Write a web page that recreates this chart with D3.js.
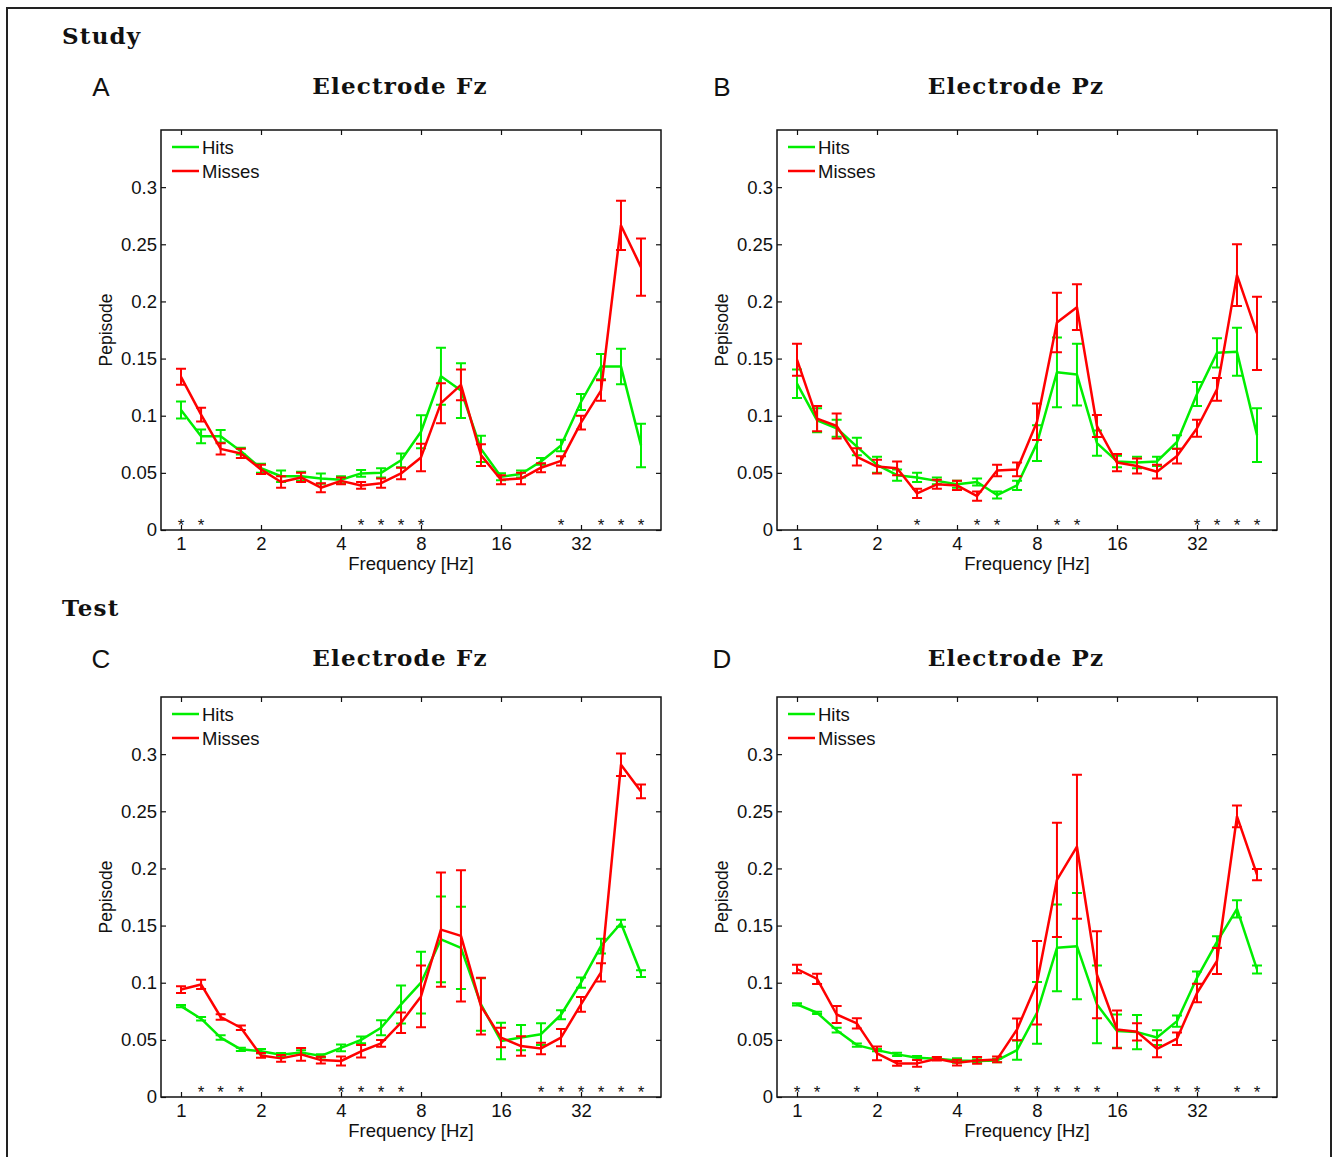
<!DOCTYPE html>
<html>
<head>
<meta charset="utf-8">
<script src="https://cdn.jsdelivr.net/npm/d3@7"></script>
<style>
  html, body { margin: 0; padding: 0; background: #fff; }
  svg { display: block; }
</style>
</head>
<body>
<div id="chart"></div>
<script>
// Quarter-octave frequency bins (Hz)
const freqs = [1, 1.19, 1.41, 1.68, 2, 2.38, 2.83, 3.36, 4, 4.76, 5.66, 6.73,
               8, 9.51, 11.31, 13.45, 16, 19.03, 22.63, 26.91, 32, 38.05, 45.25, 53.82];
const xTickValues = [1, 2, 4, 8, 16, 32];
const yTickValues = [0, 0.05, 0.1, 0.15, 0.2, 0.25, 0.3];
const yTickLabels = ["0", "0.05", "0.1", "0.15", "0.2", "0.25", "0.3"];
const seriesNames = ["Hits", "Misses"];

// Study, electrode Fz
const studyFzHits      = [0.105, 0.082, 0.082, 0.069, 0.054, 0.047, 0.047, 0.045, 0.044, 0.0495, 0.050, 0.061,
                          0.086, 0.1345, 0.122, 0.071, 0.0466, 0.049, 0.060, 0.074, 0.112, 0.143, 0.143, 0.074];
const studyFzHitsErr   = [0.0075, 0.006, 0.0055, 0.003, 0.004, 0.005, 0.004, 0.0045, 0.003, 0.003, 0.004, 0.006,
                          0.0145, 0.025, 0.024, 0.0115, 0.003, 0.003, 0.003, 0.005, 0.007, 0.011, 0.0155, 0.019];
const studyFzMisses    = [0.134, 0.101, 0.071, 0.067, 0.053, 0.042, 0.046, 0.037, 0.043, 0.039, 0.041, 0.0495,
                          0.0635, 0.111, 0.127, 0.0655, 0.044, 0.045, 0.0545, 0.0605, 0.094, 0.122, 0.2665, 0.230];
const studyFzMissesErr = [0.007, 0.006, 0.005, 0.004, 0.004, 0.005, 0.004, 0.004, 0.003, 0.003, 0.004, 0.005,
                          0.012, 0.0175, 0.0135, 0.0095, 0.004, 0.005, 0.004, 0.004, 0.006, 0.009, 0.0215, 0.025];
const studyFzStars     = [0, 1, 9, 10, 11, 12, 19, 21, 22, 23];

// Study, electrode Pz
const studyPzHits      = [0.128, 0.096, 0.089, 0.073, 0.057, 0.048, 0.046, 0.043, 0.040, 0.042, 0.0306, 0.039,
                          0.076, 0.138, 0.136, 0.076, 0.060, 0.059, 0.060, 0.077, 0.119, 0.155, 0.156, 0.083];
const studyPzHitsErr   = [0.0125, 0.0105, 0.0075, 0.0077, 0.007, 0.005, 0.004, 0.003, 0.003, 0.003, 0.003, 0.004,
                          0.0157, 0.0305, 0.027, 0.011, 0.005, 0.005, 0.004, 0.006, 0.0105, 0.0128, 0.021, 0.0235];
const studyPzMisses    = [0.149, 0.0975, 0.091, 0.064, 0.0555, 0.054, 0.032, 0.040, 0.039, 0.0297, 0.052, 0.053,
                          0.0947, 0.1815, 0.195, 0.091, 0.059, 0.056, 0.051, 0.0647, 0.089, 0.123, 0.223, 0.172];
const studyPzMissesErr = [0.014, 0.011, 0.011, 0.0075, 0.006, 0.006, 0.004, 0.004, 0.004, 0.004, 0.005, 0.006,
                          0.016, 0.026, 0.020, 0.0096, 0.0075, 0.0065, 0.006, 0.0065, 0.0075, 0.010, 0.027, 0.032];
const studyPzStars     = [6, 9, 10, 13, 14, 20, 21, 22, 23];

// Test, electrode Fz
const testFzHits       = [0.0795, 0.0685, 0.052, 0.0417, 0.040, 0.037, 0.039, 0.036, 0.043, 0.050, 0.0606, 0.081,
                          0.100, 0.138, 0.1305, 0.081, 0.049, 0.052, 0.055, 0.072, 0.100, 0.132, 0.152, 0.108];
const testFzHitsErr    = [0.001, 0.0015, 0.002, 0.0015, 0.002, 0.0015, 0.002, 0.0015, 0.003, 0.003, 0.0065, 0.0166,
                          0.027, 0.0375, 0.036, 0.023, 0.016, 0.011, 0.0095, 0.004, 0.0045, 0.0065, 0.003, 0.003];
const testFzMisses     = [0.094, 0.0985, 0.070, 0.0606, 0.0364, 0.0338, 0.0373, 0.0323, 0.0315, 0.040, 0.0469, 0.065,
                          0.088, 0.1465, 0.141, 0.0795, 0.052, 0.0446, 0.0425, 0.052, 0.081, 0.109, 0.2907, 0.2674];
const testFzMissesErr  = [0.003, 0.004, 0.0025, 0.002, 0.002, 0.003, 0.0055, 0.003, 0.004, 0.0055, 0.003, 0.009,
                          0.027, 0.050, 0.0575, 0.0248, 0.0085, 0.0085, 0.005, 0.0075, 0.0065, 0.008, 0.0099, 0.006];
const testFzStars      = [1, 2, 3, 8, 9, 10, 11, 18, 19, 20, 21, 22, 23];

// Test, electrode Pz
const testPzHits       = [0.081, 0.0737, 0.0585, 0.0454, 0.041, 0.0373, 0.0344, 0.0335, 0.032, 0.0315, 0.032, 0.041,
                          0.0737, 0.1305, 0.132, 0.081, 0.0577, 0.0568, 0.052, 0.0664, 0.1043, 0.1357, 0.1646, 0.1116];
const testPzHitsErr    = [0.001, 0.001, 0.002, 0.0015, 0.001, 0.0015, 0.0015, 0.001, 0.002, 0.0015, 0.0015, 0.0085,
                          0.027, 0.038, 0.0465, 0.034, 0.0145, 0.015, 0.0065, 0.005, 0.0055, 0.005, 0.0075, 0.0035];
const testPzMisses     = [0.112, 0.1034, 0.0722, 0.0644, 0.0382, 0.0294, 0.0294, 0.0335, 0.030, 0.032, 0.0329, 0.0591,
                          0.100, 0.190, 0.219, 0.107, 0.0591, 0.057, 0.0422, 0.051, 0.091, 0.119, 0.2455, 0.1946];
const testPzMissesErr  = [0.0037, 0.0045, 0.0075, 0.0045, 0.006, 0.002, 0.003, 0.0015, 0.0025, 0.003, 0.0025, 0.0095,
                          0.0365, 0.050, 0.063, 0.038, 0.0165, 0.0075, 0.0075, 0.0055, 0.008, 0.0113, 0.0095, 0.005];
const testPzStars      = [0, 1, 3, 6, 11, 12, 13, 14, 15, 18, 19, 20, 22, 23];

const colors = { Hits: "#00ee00", Misses: "#ff0000" };

const W = 1334, H = 1157;
const plotW = 500, plotH = 400;

const panels = [
  { letter: "A", title: "Electrode Fz", left: 161, top: 130, letterX: 101, headY: 95,
    hits: studyFzHits, hitsErr: studyFzHitsErr, misses: studyFzMisses, missesErr: studyFzMissesErr, stars: studyFzStars },
  { letter: "B", title: "Electrode Pz", left: 777, top: 130, letterX: 722, headY: 95,
    hits: studyPzHits, hitsErr: studyPzHitsErr, misses: studyPzMisses, missesErr: studyPzMissesErr, stars: studyPzStars },
  { letter: "C", title: "Electrode Fz", left: 161, top: 697, letterX: 101, headY: 667,
    hits: testFzHits, hitsErr: testFzHitsErr, misses: testFzMisses, missesErr: testFzMissesErr, stars: testFzStars },
  { letter: "D", title: "Electrode Pz", left: 777, top: 697, letterX: 722, headY: 667,
    hits: testPzHits, hitsErr: testPzHitsErr, misses: testPzMisses, missesErr: testPzMissesErr, stars: testPzStars }
];

const sans = "'Liberation Sans', Arial, Helvetica, sans-serif";
const serif = "'DejaVu Serif', serif";

const svg = d3.select("#chart").append("svg")
  .attr("width", W).attr("height", H);

svg.append("rect").attr("width", W).attr("height", H).attr("fill", "#fff");

// outer figure frame (open at the bottom)
svg.append("path")
  .attr("d", `M7,${H + 5} L7,8 L1331,8 L1331,${H + 5}`)
  .attr("fill", "none").attr("stroke", "#222").attr("stroke-width", 2);

// section headings
[["Study", 44], ["Test", 616]].forEach(([t, yy]) => {
  svg.append("text").attr("x", 62).attr("y", yy)
    .attr("font-family", serif).attr("font-weight", "bold")
    .attr("font-size", 23).attr("letter-spacing", 1.2)
    .attr("fill", "#111").text(t);
});

const x = d3.scaleLog().base(2).domain([Math.pow(2, -0.25), 64]).range([0, plotW]);
const y = d3.scaleLinear().domain([0, 0.35]).range([plotH, 0]);

panels.forEach(p => {
  const g = svg.append("g").attr("transform", `translate(${p.left},${p.top})`);

  // panel letter and title
  svg.append("text").attr("x", p.letterX).attr("y", p.headY + 1)
    .attr("text-anchor", "middle").attr("font-family", sans).attr("font-size", 26)
    .attr("fill", "#111").text(p.letter);
  svg.append("text").attr("x", p.left + plotW / 2 - 11).attr("y", p.headY - 1)
    .attr("text-anchor", "middle").attr("font-family", serif).attr("font-weight", "bold")
    .attr("font-size", 23).attr("letter-spacing", 1.2)
    .attr("fill", "#111").text(p.title);

  // axes with inward ticks on all four sides
  const styleAxis = sel => {
    sel.select(".domain").remove();
    sel.selectAll(".tick line").attr("stroke", "#111").attr("stroke-width", 1.2);
    sel.selectAll("text").attr("font-family", sans).attr("font-size", 18.5).attr("fill", "#111");
  };
  g.append("g").attr("transform", `translate(0,${plotH})`)
    .call(d3.axisBottom(x).tickValues(xTickValues).tickFormat(d => String(d))
      .tickSize(-5).tickPadding(7))
    .call(styleAxis);
  g.append("g")
    .call(d3.axisTop(x).tickValues(xTickValues).tickFormat("").tickSize(-5))
    .call(styleAxis);
  g.append("g")
    .call(d3.axisLeft(y).tickValues(yTickValues).tickFormat((d, i) => yTickLabels[i])
      .tickSize(-5).tickPadding(4))
    .call(styleAxis);
  g.append("g").attr("transform", `translate(${plotW},0)`)
    .call(d3.axisRight(y).tickValues(yTickValues).tickFormat("").tickSize(-5))
    .call(styleAxis);

  g.append("rect").attr("width", plotW).attr("height", plotH)
    .attr("fill", "none").attr("stroke", "#111").attr("stroke-width", 1.5);

  // axis labels
  g.append("text").attr("x", plotW / 2).attr("y", plotH + 40)
    .attr("text-anchor", "middle").attr("font-family", sans).attr("font-size", 18.5)
    .attr("fill", "#111").text("Frequency [Hz]");
  g.append("text").attr("transform", `translate(-49,${plotH / 2}) rotate(-90)`)
    .attr("text-anchor", "middle").attr("font-family", sans).attr("font-size", 17.5)
    .attr("fill", "#111").text("Pepisode");

  // series: line + error bars
  const series = [
    { name: "Hits", vals: p.hits, err: p.hitsErr },
    { name: "Misses", vals: p.misses, err: p.missesErr }
  ];
  const line = d3.line().x((d, i) => x(freqs[i])).y(d => y(d));
  series.forEach(s => {
    const c = colors[s.name];
    const eg = g.append("g").attr("stroke", c).attr("stroke-width", 2).attr("fill", "none");
    s.vals.forEach((v, i) => {
      const cx = x(freqs[i]), y0 = y(v - s.err[i]), y1 = y(v + s.err[i]);
      eg.append("path").attr("d",
        `M${cx},${y0}L${cx},${y1}M${cx - 5},${y0}L${cx + 5},${y0}M${cx - 5},${y1}L${cx + 5},${y1}`);
    });
    g.append("path").datum(s.vals).attr("d", line)
      .attr("fill", "none").attr("stroke", c).attr("stroke-width", 2.5)
      .attr("stroke-linejoin", "round");
  });

  // significance markers
  g.selectAll("text.star").data(p.stars).join("text").attr("class", "star")
    .attr("x", i => x(freqs[i])).attr("y", plotH + 1)
    .attr("text-anchor", "middle").attr("font-family", sans).attr("font-size", 17)
    .attr("fill", "#111").text("*");

  // legend
  const lg = g.append("g").attr("transform", "translate(11,17)");
  seriesNames.forEach((n, i) => {
    lg.append("line").attr("x1", 0).attr("x2", 27).attr("y1", i * 24).attr("y2", i * 24)
      .attr("stroke", colors[n]).attr("stroke-width", 2.5);
    lg.append("text").attr("x", 30).attr("y", i * 24 + 7)
      .attr("font-family", sans).attr("font-size", 18.5).attr("fill", "#111").text(n);
  });
});
</script>
</body>
</html>
